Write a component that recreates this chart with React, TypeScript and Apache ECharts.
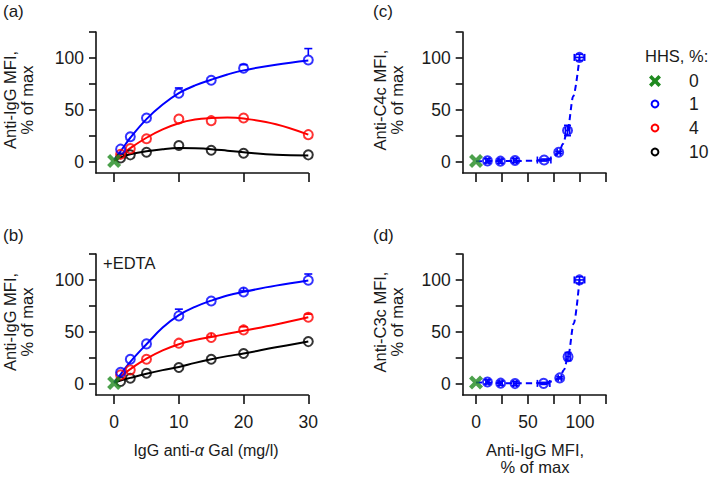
import React, { useEffect, useRef } from "react";
import * as echarts from "echarts";

// ---------- data ----------
const concX = [1, 2.5, 5, 10, 15, 20, 30];
const fitX = [0, 1, 2.5, 5, 7.5, 10, 12.5, 15, 17.5, 20, 25, 30];

// panel (a)
const aHHS1 = [12, 24, 42, 66, 78.5, 90, 98];
const aHHS1Err = [0, 0, 0, 5, 0, 3.5, 11];
const aHHS4 = [7, 12.5, 22, 41, 39.5, 42, 26];
const aHHS10 = [3.5, 6.5, 9, 15.5, 11, 8, 6.5];
const aFit1 = [2, 10, 23, 41, 55, 66, 73.5, 79, 84, 88, 93.5, 97.5];
const aFit4 = [1, 6, 13, 23, 31, 37, 40.5, 42, 42.5, 41.5, 36, 26];
const aFit10 = [1, 4, 7, 10, 12, 13, 12.8, 12, 10.5, 9, 6.5, 6];
const aHHS0 = [0, 0.5];

// panel (b) +EDTA
const bHHS1 = [11, 23.5, 38.3, 65.3, 79.7, 88.4, 99.7];
const bHHS1Err = [0, 0, 0, 6.5, 0, 1, 6];
const bHHS4 = [8.4, 13.2, 23.5, 39, 44.4, 51.8, 64];
const bHHS4Err = [0, 0, 0, 0, 1, 3, 3];
const bHHS10 = [2, 5.2, 10, 15.5, 23.5, 29, 40.5];
const bFit1 = [1, 9, 21, 38, 54, 66, 74, 80, 85, 88.5, 94.5, 99.5];
const bFit4 = [1, 7, 14, 24, 32, 38, 42, 45, 48, 51, 57, 64];
const bFit10 = [1, 3, 5.5, 9.5, 13, 16, 20, 23.5, 26.5, 29, 35, 40.5];
const bHHS0 = [0, 0.5];

// panel (c) Anti-C4c vs Anti-IgG
const cX = [11, 23.5, 37.5, 65.5, 79.5, 88, 99.5];
const cY = [0.7, 0.4, 1, 1.5, 9, 30, 100.5];
const cXErr = [1.5, 1.5, 1.5, 6.5, 1.5, 2, 5];
const cYErr = [2, 2, 2, 1, 1, 5, 3];
const cFitX = [0, 11, 23.5, 37.5, 65, 72, 79.5, 83.5, 88, 93.5, 99.5];
const cFitY = [0.3, 0.5, 0.5, 0.6, 1, 3, 8, 17, 30, 63, 100];
const cHHS0 = [0, 0.5];

// panel (d) Anti-C3c vs Anti-IgG
const dX = [11, 23.7, 37.5, 65, 80.5, 88.5, 99.5];
const dY = [1.6, 0.4, 0, 0.2, 5.5, 26, 100];
const dXErr = [1.5, 1.5, 1.5, 6, 1.5, 2, 5];
const dYErr = [2, 2, 2, 1, 1, 4, 3];
const dFitX = [0, 11, 23.7, 37.5, 65, 73, 80.5, 84.5, 88.5, 94, 99.5];
const dFitY = [1, 1, 0.5, 0.3, 0.5, 2, 5.5, 13, 26, 58, 100];
const dHHS0 = [0, 1];

const concTicks = [0, 10, 20, 30];
const pctTicks = [0, 25, 50, 75, 100, 125];
const pctLabels = [0, 50, 100];
const legendLabels = ["0", "1", "4", "10"];

// ---------- style ----------
const FONT = "'Liberation Sans', Arial, Helvetica, sans-serif";
const BLUE = "#0000ff";
const RED = "#ff0000";
const BLACK = "#000000";
const GREEN = "#1f8a1f";
const AXIS = "#111111";
const TXT = "#1a1a1a";
const XPTS = [[0, 3], [3, 0], [7, 4], [11, 0], [14, 3], [10, 7], [14, 11], [11, 14], [7, 10], [3, 14], [0, 11], [4, 7]];
const XPATH = "path://M" + XPTS.map((p) => p.join(",")).join(" L") + " Z";

const zip = (xs: number[], ys: number[]) => xs.map((x, i) => [x, ys[i]]);

function xAxisDef(gridIndex: number, min: number, max: number, ticks: number[], labels: number[] | null) {
  return {
    type: "value", gridIndex, min, max,
    axisLine: { show: true, onZero: false, lineStyle: { color: AXIS, width: 1.6 } },
    axisTick: { show: true, customValues: ticks, length: 9, lineStyle: { color: AXIS, width: 1.6 } },
    axisLabel: labels
      ? { show: true, customValues: labels, margin: 18, fontSize: 17.5, color: TXT, fontFamily: FONT }
      : { show: false },
    splitLine: { show: false },
  };
}
function yAxisDef(gridIndex: number) {
  return {
    type: "value", gridIndex, min: -11, max: 125,
    axisLine: { show: true, onZero: false, lineStyle: { color: AXIS, width: 1.6 } },
    axisTick: { show: true, customValues: pctTicks, length: 7, lineStyle: { color: AXIS, width: 1.6 } },
    axisLabel: { show: true, customValues: pctLabels, margin: 12, fontSize: 17.5, color: TXT, fontFamily: FONT },
    splitLine: { show: false },
  };
}

function fitLine(idx: number, xs: number[], ys: number[], color: string, dashed = false) {
  return {
    type: "line", xAxisIndex: idx, yAxisIndex: idx, data: zip(xs, ys),
    smooth: dashed ? 0.3 : 0.4, smoothMonotone: dashed ? "x" : undefined,
    showSymbol: false, symbol: "none", silent: true, z: 2,
    lineStyle: { color, width: 2, type: dashed ? [6, 4] : "solid" },
  };
}
function circles(idx: number, xs: number[], ys: number[], color: string) {
  return {
    type: "scatter", xAxisIndex: idx, yAxisIndex: idx, data: zip(xs, ys),
    symbol: "circle", symbolSize: 9, z: 4,
    itemStyle: { color: "rgba(0,0,0,0)", borderColor: color, borderWidth: 2 },
  };
}
function greenX(idx: number, pt: number[]) {
  return {
    type: "scatter", xAxisIndex: idx, yAxisIndex: idx, data: [pt],
    symbol: XPATH, symbolSize: 14, z: 6, itemStyle: { color: GREEN },
  };
}
function upErr(idx: number, xs: number[], ys: number[], es: number[], color: string) {
  const data = xs.map((x, i) => [x, ys[i], es[i]]).filter((d) => d[2] > 0);
  return {
    type: "custom", xAxisIndex: idx, yAxisIndex: idx, data, z: 3, clip: false,
    encode: { x: 0, y: 1 },
    renderItem: (params: any, api: any) => {
      const x = api.value(0), y = api.value(1), e = api.value(2);
      const p0 = api.coord([x, y]);
      const p1 = api.coord([x, y + e]);
      const st = { stroke: color, lineWidth: 1.6 };
      return {
        type: "group",
        children: [
          { type: "line", shape: { x1: p0[0], y1: p0[1] - 4.5, x2: p1[0], y2: p1[1] }, style: st },
          { type: "line", shape: { x1: p1[0] - 4, y1: p1[1], x2: p1[0] + 4, y2: p1[1] }, style: st },
        ],
      };
    },
  };
}
function xyErr(idx: number, xs: number[], ys: number[], xe: number[], ye: number[], color: string) {
  const data = xs.map((x, i) => [x, ys[i], xe[i], ye[i]]);
  return {
    type: "custom", xAxisIndex: idx, yAxisIndex: idx, data, z: 3, clip: false,
    encode: { x: 0, y: 1 },
    renderItem: (params: any, api: any) => {
      const x = api.value(0), y = api.value(1), ex = api.value(2), ey = api.value(3);
      const l = api.coord([x - ex, y]), r = api.coord([x + ex, y]);
      const t = api.coord([x, y + ey]), b = api.coord([x, y - ey]);
      const st = { stroke: color, lineWidth: 1.6 };
      return {
        type: "group",
        children: [
          { type: "line", shape: { x1: l[0], y1: l[1], x2: r[0], y2: r[1] }, style: st },
          { type: "line", shape: { x1: l[0], y1: l[1] - 3.5, x2: l[0], y2: l[1] + 3.5 }, style: st },
          { type: "line", shape: { x1: r[0], y1: r[1] - 3.5, x2: r[0], y2: r[1] + 3.5 }, style: st },
          { type: "line", shape: { x1: t[0], y1: t[1], x2: b[0], y2: b[1] }, style: st },
          { type: "line", shape: { x1: t[0] - 3.5, y1: t[1], x2: t[0] + 3.5, y2: t[1] }, style: st },
          { type: "line", shape: { x1: b[0] - 3.5, y1: b[1], x2: b[0] + 3.5, y2: b[1] }, style: st },
        ],
      };
    },
  };
}

function txt(x: number, y: number, text: string, opts: any = {}) {
  return {
    type: "text", x, y, rotation: opts.rotation || 0, silent: true,
    style: {
      text, fill: TXT, fontSize: opts.fontSize || 16, fontFamily: FONT,
      align: opts.align || "left", verticalAlign: "middle",
      lineHeight: opts.lineHeight || 17, rich: opts.rich,
    },
  };
}

export default function App() {
  const ref = useRef<HTMLDivElement>(null);
  useEffect(() => {
    if (!ref.current) return;
    const chart = echarts.init(ref.current, null, { renderer: "svg" });
    const grids = [
      { left: 96, top: 32, width: 212.3, height: 141 },
      { left: 96, top: 254, width: 212.3, height: 141 },
      { left: 462.7, top: 32, width: 143.3, height: 141 },
      { left: 462.7, top: 254, width: 143.3, height: 141 },
    ].map((g) => ({ ...g, containLabel: false, outerBoundsMode: "none", show: false }));

    const legendRows = [81, 104, 128, 152];
    const legendColors = [GREEN, BLUE, RED, BLACK];
    const legendGraphics: any[] = [txt(645, 56, "HHS, %:", { fontSize: 16.5 })];
    legendRows.forEach((ly, i) => {
      if (i === 0) {
        const s = 12 / 14;
        const pts = XPTS.map(([px, py]) => [655 - 6 + px * s, ly - 6 + py * s]);
        legendGraphics.push({ type: "polygon", shape: { points: pts }, style: { fill: GREEN }, silent: true });
      } else {
        legendGraphics.push({
          type: "circle", shape: { cx: 655, cy: ly, r: 3.4 },
          style: { fill: "none", stroke: legendColors[i], lineWidth: 2 }, silent: true,
        });
      }
      legendGraphics.push(txt(689, ly, legendLabels[i], { fontSize: 17.5 }));
    });

    const option: any = {
      animation: false,
      backgroundColor: "#ffffff",
      textStyle: { fontFamily: FONT },
      grid: grids,
      xAxis: [
        xAxisDef(0, -2.8, 30, concTicks, null),
        xAxisDef(1, -2.8, 30, concTicks, concTicks),
        xAxisDef(2, -12.8, 125, pctTicks, null),
        xAxisDef(3, -12.8, 125, pctTicks, pctLabels),
      ],
      yAxis: [yAxisDef(0), yAxisDef(1), yAxisDef(2), yAxisDef(3)],
      series: [
        // (a)
        fitLine(0, fitX, aFit10, BLACK),
        fitLine(0, fitX, aFit4, RED),
        fitLine(0, fitX, aFit1, BLUE),
        circles(0, concX, aHHS10, BLACK),
        circles(0, concX, aHHS4, RED),
        circles(0, concX, aHHS1, BLUE),
        upErr(0, concX, aHHS1, aHHS1Err, BLUE),
        greenX(0, aHHS0),
        // (b)
        fitLine(1, fitX, bFit10, BLACK),
        fitLine(1, fitX, bFit4, RED),
        fitLine(1, fitX, bFit1, BLUE),
        circles(1, concX, bHHS10, BLACK),
        circles(1, concX, bHHS4, RED),
        circles(1, concX, bHHS1, BLUE),
        upErr(1, concX, bHHS1, bHHS1Err, BLUE),
        upErr(1, concX, bHHS4, bHHS4Err, RED),
        greenX(1, bHHS0),
        // (c)
        fitLine(2, cFitX, cFitY, BLUE, true),
        xyErr(2, cX, cY, cXErr, cYErr, BLUE),
        circles(2, cX, cY, BLUE),
        greenX(2, cHHS0),
        // (d)
        fitLine(3, dFitX, dFitY, BLUE, true),
        xyErr(3, dX, dY, dXErr, dYErr, BLUE),
        circles(3, dX, dY, BLUE),
        greenX(3, dHHS0),
      ],
      graphic: [
        txt(3, 11, "(a)", { fontSize: 17 }),
        txt(3, 235, "(b)", { fontSize: 17 }),
        txt(373, 11, "(c)", { fontSize: 17 }),
        txt(373, 235, "(d)", { fontSize: 17 }),
        txt(103, 263, "+EDTA", { fontSize: 16.5 }),
        txt(18.5, 100, "Anti-IgG MFI,\n% of max", { rotation: Math.PI / 2, align: "center", fontSize: 16.5 }),
        txt(18.5, 322, "Anti-IgG MFI,\n% of max", { rotation: Math.PI / 2, align: "center", fontSize: 16.5 }),
        txt(388, 100, "Anti-C4c MFI,\n% of max", { rotation: Math.PI / 2, align: "center", fontSize: 16.5 }),
        txt(388, 322, "Anti-C3c MFI,\n% of max", { rotation: Math.PI / 2, align: "center", fontSize: 16.5 }),
        txt(206, 450, "IgG anti-{i|α} Gal (mg/l)", {
          align: "center",
          rich: { i: { fontStyle: "italic", fontSize: 16, fontFamily: FONT, fill: TXT } },
        }),
        txt(535, 458, "Anti-IgG MFI,\n% of max", { align: "center", fontSize: 16.5 }),
        ...legendGraphics,
      ],
    };
    chart.setOption(option);
    return () => chart.dispose();
  }, []);
  return (
    <div
      ref={ref}
      style={{ position: "fixed", left: 0, top: 0, width: 709, height: 478, background: "#fff" }}
    />
  );
}
